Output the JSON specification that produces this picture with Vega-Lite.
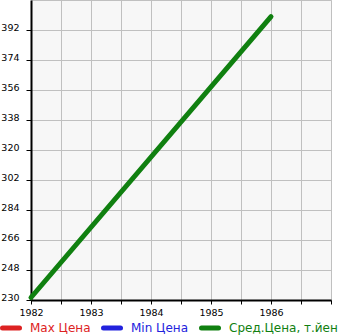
{
  "$schema": "https://vega.github.io/schema/vega-lite/v6.json",
  "width": 300,
  "height": 300,
  "autosize": {"type": "none"},
  "padding": {"left": 31, "top": 0, "right": 14, "bottom": 35},
  "background": "white",
  "config": {
    "view": {"fill": "#f7f7f7", "stroke": "#c0c0c0", "strokeWidth": 1},
    "font": "DejaVu Sans",
    "axis": {
      "labelFont": "DejaVu Sans",
      "labelFontSize": 9.5,
      "labelColor": "black",
      "domainColor": "black",
      "domainWidth": 2,
      "tickColor": "black",
      "tickWidth": 1,
      "gridColor": "#c0c0c0",
      "gridWidth": 1,
      "gridOpacity": 1,
      "title": null
    }
  },
  "data": {
    "values": [
      {"year": 1982, "price": 231.5, "series": "Сред.Цена, т.йен"},
      {"year": 1986, "price": 400, "series": "Сред.Цена, т.йен"}
    ]
  },
  "mark": {"type": "line", "strokeWidth": 5, "strokeCap": "round", "clip": false},
  "encoding": {
    "x": {
      "field": "year",
      "type": "quantitative",
      "scale": {"domain": [1982, 1987], "nice": false, "zero": false},
      "axis": {
        "values": [1982, 1982.5, 1983, 1983.5, 1984, 1984.5, 1985, 1985.5, 1986, 1986.5, 1987],
        "labelExpr": "datum.value % 1 === 0 && datum.value < 1987 ? format(datum.value, 'd') : ''",
        "tickSize": 4,
        "labelPadding": 3,
        "labelFlush": false,
        "labelOverlap": false
      }
    },
    "y": {
      "field": "price",
      "type": "quantitative",
      "scale": {"domain": [230, 410], "nice": false, "zero": false},
      "axis": {
        "values": [230, 248, 266, 284, 302, 320, 338, 356, 374, 392],
        "tickSize": 5,
        "labelPadding": 7,
        "labelBaseline": "alphabetic",
        "labelFlush": false,
        "labelOverlap": false
      }
    },
    "color": {
      "field": "series",
      "type": "nominal",
      "scale": {
        "domain": ["Max Цена", "Min Цена", "Сред.Цена, т.йен"],
        "range": ["#dd2222", "#2222dd", "#108010"]
      },
      "legend": {
        "orient": "none",
        "direction": "horizontal",
        "legendX": -31,
        "legendY": 317,
        "padding": 0,
        "title": null,
        "symbolType": "stroke",
        "symbolStrokeWidth": 5,
        "symbolSize": 289,
        "labelFont": "DejaVu Sans",
        "labelFontSize": 12,
        "labelOffset": 8,
        "columnPadding": 2,
        "labelLimit": 200,
        "encode": {
          "labels": {"update": {"fill": {"scale": "color", "field": "value"}}},
          "symbols": {"update": {"strokeCap": {"value": "round"}}}
        }
      }
    }
  }
}
